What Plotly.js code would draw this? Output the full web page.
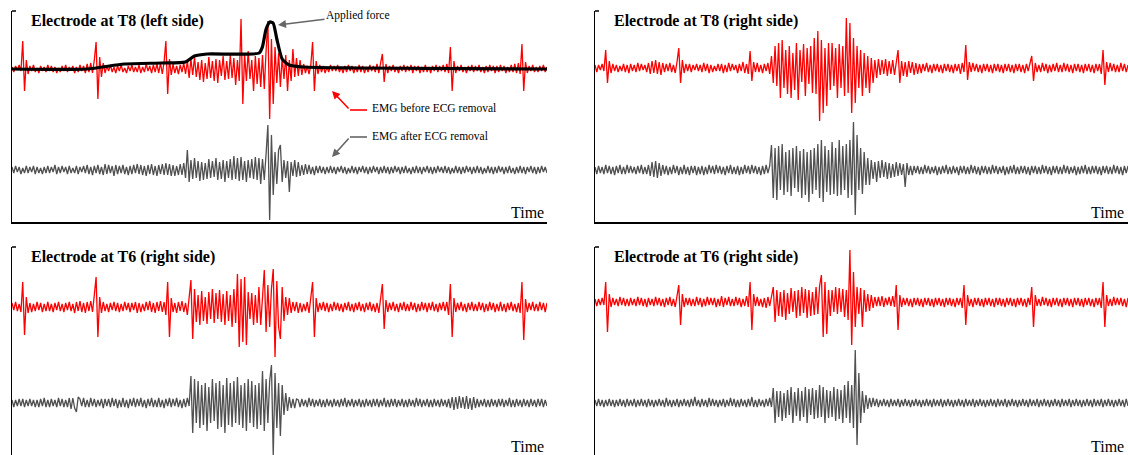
<!DOCTYPE html>
<html>
<head>
<meta charset="utf-8">
<script src="https://cdn.plot.ly/plotly-3.0.1.min.js"></script>
<style>html,body{margin:0;padding:0;background:#fff;}#chart{width:1128px;height:455px;}</style>
</head>
<body>
<div id="chart"></div>
<script>
// ---------- DATA (signal amplitudes) ----------
const panelTitles = ["Electrode at T8 (left side)", "Electrode at T8 (right side)", "Electrode at T6 (right side)", "Electrode at T6 (right side)"];
const timeLabel = "Time";
const seriesNames = ["EMG before ECG removal", "EMG after ECG removal", "Applied force"];

const t8LeftBefore = [
2,-3,3,-1,4,-2,28,-22,9,-5, 3,-2,4,-3,1,-4,3,-2,2,-3, 4,-2,3,-3,2,-4,1,-3,3,-2,
4,-3,2,-1,3,-4,2,-3,4,-2, 3,-4,5,-3,6,-4,9,27,-30,12, -8,6,-4,3,-2,4,-3,2,-4,3,
-2,4,-3,1,-4,3,-2,4,-3,2, -3,4,-4,2,-3,5,-2,3,-4,4, -3,5,-4,6,-5,7,28,-25,10,-6,
5,-4,3,-5,4,-3,6,-5,8,-9, 10,-6,12,-8,7,-11,9,-13,6,-10, 12,-9,8,-12,10,-14,9,-7,13,-11,
8,-10,14,-9,11,-16,9,-12,50,-35, 15,-12,18,-10,9,-22,13,-15,11,-18, 14,-20,18,48,-50,30,-35,22,-14,16,
-18,12,-10,14,-22,9,-12,20,-8,11, -7,9,-6,5,-4,3,-5,4,27,-22, 8,-5,4,-3,3,-4,2,-3,4,-2,
3,-2,4,-3,2,-4,3,-3,4,-2, 3,-4,2,-3,4,-3,3,-4,2,-3, 4,-2,3,-3,5,-4,6,15,-13,5,
-4,3,-2,4,-3,2,-4,3,-2,4, -3,3,-2,4,-4,3,-2,3,-4,2, -3,4,-3,2,-4,3,-2,4,-3,3,
-2,4,-3,5,-4,22,-22,8,-4,3, -2,4,-3,2,-4,3,-2,4,-3,3, -2,4,-3,2,-4,3,-3,4,-2,3,
-4,3,-3,4,-2,3,-4,2,-3,4, -3,5,-4,6,-5,25,-22,7,-4,3, -2,4,-3,2,-3,3,-2,4,-3,2];
const t8LeftAfter = [
3,-3,4,-2,3,-4,2,-3,4,-3, 3,-2,4,-4,3,-3,2,-4,3,-3, 4,-3,3,-2,5,-4,3,-3,4,-2,
3,-4,4,-3,2,-3,4,-4,3,-2, 4,-3,5,-4,3,-5,4,-3,5,-4, 3,-5,6,-4,5,-3,4,-6,5,-4,
4,-3,5,-4,3,-5,4,-4,5,-3, 6,-4,5,-5,4,-6,5,-4,6,-5, 4,-6,5,-4,6,-5,7,-5,6,-6,
5,-6,4,-5,6,-5,7,-8,20,-12, 10,-9,12,-8,9,-11,8,-10,7,-9, 11,-8,9,-7,12,-10,8,-9,10,-12,
9,-8,11,-10,14,-9,12,-11,13,-10, 9,-12,10,-8,11,-9,13,-10,12,-14, 11,-10,16,45,-50,35,-25,18,-14,20,
25,-12,10,-8,9,-22,8,-6,10,-7, 8,-6,5,-5,6,-4,5,-4,3,-5, 4,-3,4,-3,3,-4,3,-3,4,-3,
3,-4,3,-2,4,-3,3,-4,2,-3, 4,-3,3,-4,3,-2,4,-3,3,-4, 3,-3,4,-2,3,-4,3,-3,4,-3,
3,-4,3,-3,4,-2,3,-4,3,-3, 4,-3,2,-4,3,-3,4,-3,3,-4, 3,-2,4,-3,3,-4,3,-3,4,-2,
3,-3,4,-3,3,-4,2,-3,4,-3, 3,-4,3,-3,4,-2,3,-4,3,-3, 4,-3,3,-4,2,-3,4,-3,3,-4,
3,-3,4,-2,3,-4,3,-3,4,-3, 2,-4,3,-3,4,-3,3,-4,3,-2, 4,-3,3,-4,3,-3,4,-2,3,-3];
const forceTime  = [0, 14, 21, 28, 32.4, 34.1, 36.5, 46.2, 46.8, 47.5, 48.2, 48.8, 49.5, 50.5, 51.8, 54.5, 64.5, 100];
const forceValue = [0, 0, 5, 6, 7, 13, 15, 16, 22, 40, 47, 46, 30, 10, 4, 2, 1, 0];

const t8RightBefore = [
3,-4,3,-2,4,-3,18,-15,7,-5, 4,-3,3,-4,2,-3,4,-4,3,-5, 4,-3,3,-4,5,-3,4,-2,3,-4,
5,-6,7,-5,8,-6,6,-7,5,-4, 4,-3,5,-4,3,-5,6,20,-15,8, -5,4,-3,4,-4,3,-2,4,-3,3,
-4,5,-3,4,-5,3,-4,2,-3,4, -3,4,-5,3,-4,5,-3,4,-2,3, -5,4,-3,6,-5,4,-6,17,-13,6,
-4,5,-4,3,-5,4,-3,5,-6,12, -15,22,-18,25,-30,28,-20,18,-26,22, -30,15,-22,25,-32,18,-14,24,-28,20,
-16,22,-25,30,-26,37,-53,28,-45,20, -38,25,-22,25,-18,20,-30,24,-20,22, -28,50,-25,45,-45,30,-35,22,-20,18,
-28,15,-20,12,-25,10,-15,8,-10,9, -7,8,-6,9,-8,7,-6,8,-7,6, 18,-15,7,-8,6,-9,7,-5,6,-7,
5,-6,4,-5,4,-3,5,-4,3,-5, 4,-3,4,-4,3,-5,4,-3,4,-4, 3,-5,4,-3,4,-6,5,-4,23,-12,
6,-4,5,-3,4,-4,3,-5,4,-3, 4,-4,3,-5,4,-3,4,-4,3,-5, 4,-3,4,-4,3,-5,4,-3,4,-4,
3,-5,4,-3,5,12,-13,5,-4,3, -4,5,-3,4,-5,3,-4,4,-3,5, -4,3,-4,5,-3,4,-4,3,-5,4,
-3,4,-4,3,-5,4,-3,4,-4,3, -5,4,-3,4,-6,18,-17,6,-4,5, -3,4,-4,3,-4,5,-3,4,-4,3];
const t8RightAfter = [
3,-4,4,-3,3,-4,5,-3,4,-4, 3,-5,4,-3,5,-4,3,-4,5,-3, 4,-3,3,-4,4,-3,5,-4,3,-4,
5,-6,8,-7,9,-8,7,-6,5,-4, 4,-5,3,-4,5,-3,4,-5,3,-4, 5,-4,3,-5,4,-3,4,-5,3,-4,
4,-5,3,-4,5,-3,4,-4,5,-3, 4,-4,3,-5,4,-3,5,-4,3,-4, 4,-5,3,-4,5,-3,4,-4,5,-3,
4,-4,3,-5,4,-4,5,-3,4,25, -28,22,-30,24,-20,26,-25,18,-22,20, -26,22,-18,24,-22,19,-28,21,-25,18,
-32,20,-24,22,-20,26,-28,30,-32,24, -22,20,-25,28,-24,22,-26,30,-25,24, -20,26,-28,30,-25,48,-45,35,-20,22,
-24,18,-15,12,-15,10,-9,8,-12,9, -8,10,-7,8,-9,7,-8,6,-7,8, -6,7,-5,6,-17,7,-5,4,-5,4,
-3,4,-4,3,-4,5,-3,4,-4,3, -3,4,-5,3,-4,4,-3,5,-4,3, -4,4,-3,3,-5,4,-3,4,-4,3,
-4,5,-3,4,-4,3,-5,4,-3,4, -4,3,-4,5,-3,4,-4,3,-3,4, -5,3,-4,4,-3,5,-4,3,-4,4,
-3,4,-4,3,-5,4,-3,4,-4,3, -4,5,-3,4,-4,3,-5,4,-3,4, -4,3,-4,5,-3,4,-4,3,-3,4,
-5,3,-4,4,-3,5,-4,3,-4,4, -3,4,-4,3,-5,4,-3,4,-4,3, -4,5,-3,4,-4,3,-5,4,-3,4];

const t6LeftBefore = [
4,-3,5,-4,3,-5,25,-28,10,-6, 4,-5,3,-4,5,-3,4,-5,3,-4, 5,-4,3,-5,4,-3,5,-4,3,-5,
4,-3,5,-4,3,-6,5,-4,6,-5, 4,-6,5,-4,6,-5,12,30,-30,10, -6,5,-4,3,-5,4,-3,5,-4,4,
-5,3,-4,5,-3,4,-5,4,-3,5, -6,4,-5,3,-4,5,-3,6,-5,4, -6,5,-4,6,-5,5,-8,25,-30,9,
-5,4,-6,5,-4,6,-5,4,-8,10, 27,-32,18,-15,12,-18,16,-14,10,-17, 15,-12,18,-16,14,-12,17,-15,13,-18,
16,-14,12,-20,18,-16,33,-40,28,-35, 30,-38,15,-12,14,-18,12,-16,20,-18, 14,37,-25,22,-20,18,38,-50,26,-20,
-32,20,-14,10,-8,9,-6,5,-4,5, -6,4,-5,3,-4,5,-6,8,25,-30, 9,-5,4,-3,5,-4,4,-5,3,-4,
5,-3,4,-4,3,-5,4,-3,5,-4, 3,-5,4,-3,5,-4,3,-5,4,-3, 5,-4,3,-5,4,-6,7,23,-22,7,
-5,4,-3,5,-4,3,-5,4,-3,5, -4,3,-4,5,-3,4,-5,3,-4,5, -3,4,-5,4,-3,5,-4,3,-5,4,
-3,5,-4,5,-8,23,-30,9,-5,4, -3,5,-4,3,-5,4,-3,5,-4,3, -4,5,-3,4,-5,3,-4,5,-3,4,
-5,3,-4,5,-4,3,-5,4,-3,5, -4,3,-5,4,-6,25,-33,8,-5,4, -3,5,-4,3,-4,5,-3,4,-5,4];
const t6LeftAfter = [
3,-4,3,-3,4,-3,4,-4,3,-3, 4,-3,3,-4,3,-4,4,-3,5,-4, 3,-4,4,-3,3,-4,5,-3,4,-4,
3,-4,5,-6,5,-5,-9,6,4,-3, 5,-4,3,-4,5,-3,4,-4,3,-3, 4,-5,4,-3,4,-4,5,-3,4,-5,
3,-4,5,-4,3,-5,4,-3,5,-4, 4,-3,5,-4,3,-5,4,-3,5,-4, 3,-4,5,-4,3,-5,4,-3,5,-4,
4,-3,5,-4,3,-5,4,-4,5,-3, 27,-30,24,-20,22,-25,18,-22,20,-28, 16,-20,24,-18,20,-26,22,-24,18,-30,
25,-22,20,-24,22,-20,26,-22,18,-25, 20,-28,24,-20,22,-24,18,-26,20,-22, 32,-28,24,-20,22,38,-52,30,-25,20,
-33,18,-12,10,-8,6,-5,4,-5,4, 3,-4,4,-3,3,-4,5,-3,4,-4, 3,-3,4,-4,3,-4,4,-3,3,-4,
4,-3,3,-4,4,-3,5,-4,3,-3, 4,-4,3,-3,4,-4,3,-4,4,-3, 3,-4,4,-3,4,-4,3,-3,5,-4,
3,-4,4,-3,4,-4,3,-3,4,-4, 3,-4,4,-3,3,-4,5,-3,4,-4, 3,-3,4,-4,3,-4,4,-3,3,-4,
4,-3,3,-4,4,-5,6,-7,6,-6, 7,-5,6,-6,7,-6,5,-7,6,-5, 4,-4,3,-3,4,-4,3,-4,4,-3,
3,-4,4,-3,4,-4,3,-3,5,-4, 3,-4,4,-3,3,-4,4,-3,3,-4, 4,-3,3,-4,4,-3,4,-4,3,-3];

const t6RightBefore = [
3,-4,3,-3,4,-3,20,-30,8,-5, 4,-3,3,-4,5,-3,4,-4,3,-4, 4,-3,3,-4,5,-3,4,-4,3,-5,
4,-3,3,-4,5,-3,4,-4,3,-5, 4,-3,5,-4,3,-5,6,17,-23,8, -5,4,-3,4,-4,3,-4,5,-3,4,
-5,3,-4,5,-3,4,-3,4,-5,3, -4,6,-5,4,-3,5,-4,3,-4,5, -3,4,-5,3,-4,6,-5,20,-28,8,
-4,5,-4,3,-5,4,-6,5,-4,6, 15,-20,12,-14,10,-15,12,-18,9,-12, 14,-10,11,-16,12,-14,15,-11,13,-16,
12,-14,10,-13,15,-12,16,27,-35,20, -32,12,-14,12,-10,15,-12,14,-10,13, -15,12,-18,52,-43,30,-25,15,-12,14,
-25,12,-10,8,-9,7,-6,5,-4,5, -4,6,-5,4,-3,5,-4,6,-5,17, -28,7,-5,4,-3,4,-4,3,-5,4,
-3,4,-4,3,-5,4,-3,4,-4,3, -5,4,-3,4,-4,3,-5,4,-3,4, -4,3,-5,4,-3,4,-6,17,-23,7,
-4,3,-5,4,-3,4,-4,3,-5,4, -3,4,-4,3,-5,4,-3,4,-4,3, -5,4,-3,4,-4,3,-5,4,-3,4,
-4,3,-5,4,-3,15,-25,7,-4,3, -4,5,-3,4,-4,3,-5,4,-3,4, -4,3,-5,4,-3,4,-4,3,-5,4,
-3,4,-4,3,-5,4,-3,4,-4,3, -5,4,-3,4,-6,20,-25,7,-4,3, -4,5,-3,4,-3,4,-4,3,-5,4];
const t6RightAfter = [
3,-3,4,-3,3,-4,3,-3,4,-3, 3,-4,3,-3,4,-3,3,-4,4,-3, 3,-3,4,-4,3,-3,4,-3,3,-4,
4,-3,3,-4,3,-3,4,-3,3,-4, 5,-3,3,-4,3,-3,4,-4,3,-3, 4,-3,3,-4,4,-3,6,-3,3,-4,
4,-3,3,-4,5,-3,4,-3,3,-4, 3,-3,4,-4,3,-3,5,-3,4,-4, 3,-4,4,-3,3,-4,4,-3,6,-4,
3,-4,4,-3,3,-4,4,-3,5,-4, 15,-20,12,-14,12,-18,10,-15,13,-12, 16,-20,11,-13,15,-18,12,-14,16,-20,
14,-12,15,-16,13,-15,18,-14,16,-20, 13,-15,12,-14,16,-18,14,-16,13,-20, 18,-15,22,-20,18,-25,53,-42,30,-20,
12,-10,8,-6,5,-4,5,-3,4,-4, 3,-3,4,-3,3,-4,4,-3,3,-3, 4,-4,3,-3,4,-3,3,-4,3,-3,
4,-3,3,-4,3,-3,4,-3,3,-4, 4,-3,3,-3,4,-4,3,-3,4,-3, 3,-4,3,-3,4,-3,3,-4,4,-3,
3,-3,4,-4,3,-3,4,-3,3,-4, 3,-3,4,-3,3,-4,4,-3,3,-3, 4,-4,3,-3,4,-3,3,-4,3,-3,
4,-3,3,-4,4,-3,3,-3,4,-4, 3,-3,4,-3,3,-4,3,-3,4,-3, 3,-4,4,-3,3,-3,4,-4,3,-3,
4,-3,3,-4,3,-3,4,-3,3,-4, 4,-3,3,-3,4,-4,3,-3,4,-3, 3,-4,3,-3,4,-3,3,-4,4,-3];

// ---------- LAYOUT GEOMETRY (pixels) ----------
const W = 1128, H = 455;
const px = v => v / W, py = v => 1 - v / H;
const panels = [
  {before: t8LeftBefore,  after: t8LeftAfter,  x0: 12,  x1: 547, top: 11,  bot: 222, redBase: 58, grayBase: 159, bottomLine: true,  title: panelTitles[0], timeY: 212},
  {before: t8RightBefore, after: t8RightAfter, x0: 595, x1: 1128, top: 11, bot: 222, redBase: 57, grayBase: 159, bottomLine: true,  title: panelTitles[1], timeY: 212},
  {before: t6LeftBefore,  after: t6LeftAfter,  x0: 12,  x1: 547, top: 247, bot: 455, redBase: 60, grayBase: 156, bottomLine: false, title: panelTitles[2], timeY: 446},
  {before: t6RightBefore, after: t6RightAfter, x0: 595, x1: 1128, top: 247, bot: 455, redBase: 55, grayBase: 156, bottomLine: false, title: panelTitles[3], timeY: 446}
];

const RED = "#ff0000", GRAY = "#505050", FONT = "Liberation Serif, Times New Roman, serif";
const traces = [];
const layout = {
  width: W, height: H, margin: {l: 0, r: 0, t: 0, b: 0},
  paper_bgcolor: "#fff", plot_bgcolor: "rgba(0,0,0,0)", showlegend: false,
  annotations: [], shapes: []
};
const idx = arr => arr.map((_, i) => i * 100 / (arr.length - 1));

panels.forEach((p, k) => {
  const n = k + 1, xa = "x" + (n === 1 ? "" : n), ya = "y" + (n === 1 ? "" : n);
  const hpx = p.bot - p.top;
  traces.push({x: idx(p.before), y: p.before.map(v => v - p.redBase), xaxis: xa, yaxis: ya,
    type: "scatter", mode: "lines", line: {color: RED, width: 1.3}, name: seriesNames[0], hoverinfo: "skip"});
  traces.push({x: idx(p.after), y: p.after.map(v => v - p.grayBase), xaxis: xa, yaxis: ya,
    type: "scatter", mode: "lines", line: {color: GRAY, width: 1.3}, name: seriesNames[1], hoverinfo: "skip"});
  if (k === 0) {
    traces.push({x: forceTime, y: forceValue.map(v => v - p.redBase), xaxis: xa, yaxis: ya,
      type: "scatter", mode: "lines", line: {color: "#000", width: 3.2, shape: "spline", smoothing: 0.6}, name: seriesNames[2], hoverinfo: "skip"});
  }
  layout["xaxis" + (n === 1 ? "" : n)] = {
    domain: [px(p.x0), Math.min(1, px(p.x1))], range: [0, 100], showgrid: false, zeroline: false,
    showticklabels: false, ticks: "", showline: p.bottomLine, linecolor: "#000", linewidth: 1.5,
    anchor: ya, fixedrange: true
  };
  layout["yaxis" + (n === 1 ? "" : n)] = {
    domain: [Math.max(0, py(p.bot)), py(p.top)], range: [-hpx, 0], showgrid: false, zeroline: false,
    showticklabels: false, ticks: "", showline: true, linecolor: "#000", linewidth: 1.5,
    anchor: xa, fixedrange: true
  };
  layout.shapes.push({type: "line", xref: "paper", yref: "paper", x0: px(p.x0), x1: px(p.x0 + 4),
    y0: py(p.top), y1: py(p.top), line: {color: "#000", width: 1.5}});
  layout.annotations.push({xref: "paper", yref: "paper", x: px(p.x0 + 17), y: py(p.top + 10),
    xanchor: "left", yanchor: "middle", text: "<b>" + p.title + "</b>", showarrow: false,
    font: {family: FONT, size: 16, color: "#000"}});
  layout.annotations.push({xref: "paper", yref: "paper", x: px(Math.min(p.x1, 1127) - 1), y: py(p.timeY),
    xanchor: "right", yanchor: "middle", text: timeLabel, showarrow: false,
    font: {family: FONT, size: 16, color: "#000"}});
});

// callouts in the first panel
const AFONT = {family: FONT, size: 11.5, color: "#000"};
layout.annotations.push({xref: "paper", yref: "paper", x: px(278), y: py(25), ax: 80, ay: -10,
  text: seriesNames[2], showarrow: true, arrowhead: 2, arrowsize: 1, arrowwidth: 1.6, arrowcolor: "#666",
  font: AFONT, xanchor: "center"});
layout.annotations.push({xref: "paper", yref: "paper", x: px(332), y: py(91), ax: 18, ay: 19,
  text: "", showarrow: true, arrowhead: 2, arrowsize: 1, arrowwidth: 1.6, arrowcolor: RED});
layout.shapes.push({type: "line", xref: "paper", yref: "paper", x0: px(350), x1: px(367), y0: py(110), y1: py(110),
  line: {color: RED, width: 1.6}});
layout.annotations.push({xref: "paper", yref: "paper", x: px(370), y: py(108), xanchor: "left", yanchor: "middle",
  text: seriesNames[0], showarrow: false, font: AFONT});
layout.annotations.push({xref: "paper", yref: "paper", x: px(332), y: py(157), ax: 18, ay: -20,
  text: "", showarrow: true, arrowhead: 2, arrowsize: 1, arrowwidth: 1.6, arrowcolor: "#666"});
layout.shapes.push({type: "line", xref: "paper", yref: "paper", x0: px(350), x1: px(367), y0: py(137), y1: py(137),
  line: {color: "#666", width: 1.6}});
layout.annotations.push({xref: "paper", yref: "paper", x: px(370), y: py(136), xanchor: "left", yanchor: "middle",
  text: seriesNames[1], showarrow: false, font: AFONT});

Plotly.newPlot("chart", traces, layout, {staticPlot: true, displayModeBar: false});
</script>
</body>
</html>
